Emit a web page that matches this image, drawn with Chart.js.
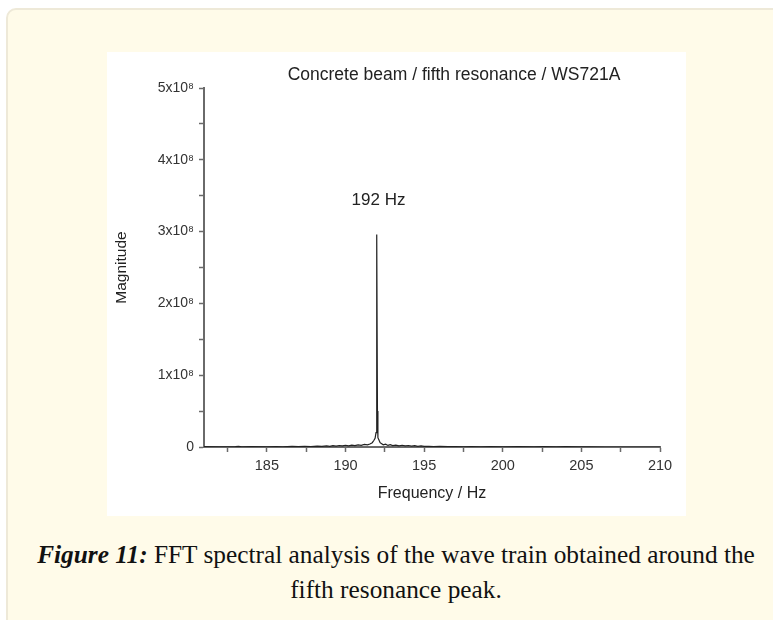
<!DOCTYPE html>
<html lang="en">
<head>
    <meta charset="UTF-8">
    <title>Figure 11</title>
    <script src="https://cdn.jsdelivr.net/npm/chart.js"></script>
    <style>
        body { margin: 0; background: #fff; width: 773px; height: 620px; overflow: hidden; position: relative; }
        .box { position: absolute; left: 6px; top: 8px; width: 820px; height: 660px; background: #fffbe9; border: 2px solid #eee9d8; border-radius: 10px; }
        .fig { position: absolute; left: 107px; top: 52px; width: 579px; height: 464px; background: #fff; }
        .caption { position: absolute; left: 20px; top: 537px; width: 752px; text-align: center; font-family: "Liberation Serif", serif; font-size: 22px; line-height: 35px; color: #111; white-space: nowrap; }
    </style>
</head>
<body>
    <div class="box"></div>
    <div class="fig"><canvas id="fft" width="579" height="464"></canvas></div>
    <div class="caption"><span id="line1"><b><i>Figure 11:</i></b> FFT spectral analysis of the wave train obtained around the</span><br>fifth resonance peak.</div>

    <script>
        // frequency (Hz) and FFT magnitude (in units of 1e8)
        const freq = [181, 182, 183, 183.2, 183.4, 184, 185, 185.6, 186, 186.6, 187, 187.4, 187.8, 188.2, 188.5, 188.8,
            189.0, 189.2, 189.4, 189.6, 189.8, 190.0, 190.2, 190.4, 190.6, 190.8, 191.0, 191.2, 191.4, 191.55, 191.7,
            191.8, 191.88, 191.94, 191.97, 192.0, 192.03, 192.06, 192.12, 192.2, 192.3, 192.4, 192.55, 192.7, 192.85,
            193.0, 193.2, 193.4, 193.6, 193.8, 194.0, 194.2, 194.4, 194.6, 194.8, 195.0, 195.3, 195.6, 196.0, 196.5,
            197.0, 197.5, 198.0, 198.6, 199.2, 200, 201, 202, 202.6, 203.4, 204, 204.8, 205.5, 206.5, 208, 210];
        const magnitude = [0.006, 0.003, 0.005, 0.009, 0.003, 0.005, 0.003, 0.006, 0.003, 0.008, 0.005, 0.009, 0.006, 0.012, 0.008, 0.015,
            0.01, 0.018, 0.013, 0.021, 0.015, 0.024, 0.016, 0.027, 0.02, 0.03, 0.024, 0.036, 0.03, 0.042, 0.06,
            0.09, 0.12, 0.2, 0.51, 2.96, 0.5, 0.13, 0.1, 0.06, 0.045, 0.03, 0.04, 0.022, 0.032,
            0.02, 0.027, 0.016, 0.024, 0.015, 0.021, 0.013, 0.018, 0.01, 0.015, 0.008, 0.01, 0.005, 0.008, 0.004,
            0.007, 0.003, 0.006, 0.003, 0.005, 0.003, 0.004, 0.003, 0.006, 0.003, 0.004, 0.003, 0.002, 0, 0, 0];

        const xTicks = [182.5, 185, 187.5, 190, 192.5, 195, 197.5, 200, 202.5, 205, 207.5, 210];
        const yTicks = [0, 0.5, 1, 1.5, 2, 2.5, 3, 3.5, 4, 4.5, 5];
        const chartTitle = 'Concrete beam / fifth resonance / WS721A';
        const peakLabel = '192 Hz';
        const peakLabelAt = [192.1, 3.43];

        const sans = '"Liberation Sans", Arial, sans-serif';

        // title and peak annotation
        const textPlugin = {
            id: 'texts',
            afterDraw(chart) {
                const c = chart.ctx;
                c.save();
                c.fillStyle = '#222';
                c.textAlign = 'center';
                c.textBaseline = 'middle';
                c.font = '17.5px ' + sans;
                c.fillText(chartTitle, 347, 23);
                c.font = '17px ' + sans;
                c.fillText(peakLabel, chart.scales.x.getPixelForValue(peakLabelAt[0]), chart.scales.y.getPixelForValue(peakLabelAt[1]));
                c.restore();
            }
        };

        const ctx = document.getElementById('fft').getContext('2d');
        new Chart(ctx, {
            type: 'line',
            data: {
                datasets: [{
                    data: freq.map((f, i) => ({ x: f, y: magnitude[i] })),
                    borderColor: '#222',
                    borderWidth: 1.2,
                    pointRadius: 0,
                    tension: 0
                }]
            },
            options: {
                responsive: false,
                animation: false,
                layout: { padding: { top: 36, right: 26, left: 0, bottom: 0 } },
                plugins: { legend: { display: false }, tooltip: { enabled: false } },
                scales: {
                    x: {
                        type: 'linear',
                        min: 181,
                        max: 210,
                        afterBuildTicks: s => { s.ticks = xTicks.map(v => ({ value: v })); },
                        afterFit: s => { s.height = 69; },
                        border: { color: '#6a6a6a', width: 2 },
                        grid: { drawOnChartArea: false, drawTicks: true, tickLength: 5, tickColor: '#6a6a6a', tickWidth: 1.5 },
                        ticks: {
                            autoSkip: false, maxRotation: 0, padding: 5, color: '#333',
                            font: { family: sans, size: 14.5 },
                            callback: v => (v % 5 === 0 ? String(v) : '')
                        },
                        title: { display: true, text: 'Frequency / Hz', color: '#222', font: { family: sans, size: 16 }, padding: { bottom: 13 } }
                    },
                    y: {
                        min: 0,
                        max: 5,
                        afterBuildTicks: s => { s.ticks = yTicks.map(v => ({ value: v })); },
                        afterFit: s => { s.width = 97; },
                        border: { color: '#6a6a6a', width: 2 },
                        grid: { drawOnChartArea: false, drawTicks: true, tickLength: 5, tickColor: '#6a6a6a', tickWidth: 1.5 },
                        ticks: {
                            padding: 5, color: '#333',
                            font: { family: sans, size: 14 },
                            callback: v => (v % 1 !== 0 ? '' : (v === 0 ? '0' : v + 'x10\u2078'))
                        },
                        title: { display: true, text: 'Magnitude', color: '#222', font: { family: sans, size: 15.5 }, padding: { top: 5 } }
                    }
                }
            },
            plugins: [textPlugin]
        });

        // fit the caption's first line to the width it has in the figure
        const line1 = document.getElementById('line1');
        const cap = document.querySelector('.caption');
        const w = line1.getBoundingClientRect().width;
        cap.style.fontSize = (22 * 718 / w).toFixed(2) + 'px';
    </script>
</body>
</html>
